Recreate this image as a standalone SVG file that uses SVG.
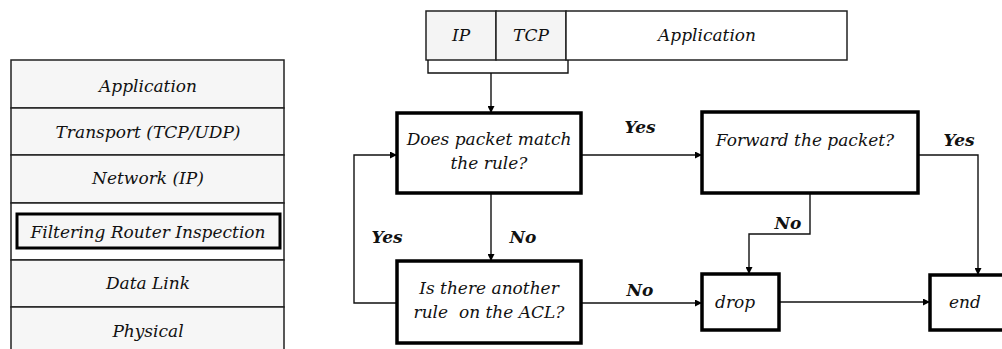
<svg xmlns="http://www.w3.org/2000/svg" width="1002" height="349" viewBox="0 0 1002 349">
<style>
text{font-family:"DejaVu Serif","Liberation Serif",serif;font-style:italic;font-size:17px;fill:#111;text-anchor:middle;dominant-baseline:central}
.b{font-weight:bold}
.row{fill:#f6f6f6;stroke:#222;stroke-width:1.5}
.hdr{stroke:#222;stroke-width:1.5}
.box{fill:#fff;stroke:#000;stroke-width:3.5}
.con{fill:none;stroke:#111;stroke-width:1.4}
</style>
<defs>
<marker id="ah" viewBox="0 0 10 10" refX="10" refY="5" markerWidth="7" markerHeight="7" markerUnits="userSpaceOnUse" orient="auto">
<path d="M0,0L10,5L0,10z" fill="#000"/>
</marker>
</defs>
<g id="stack">
<rect class="row" x="11" y="60" width="273" height="48"/>
<rect class="row" x="11" y="108" width="273" height="47"/>
<rect class="row" x="11" y="155" width="273" height="48"/>
<rect x="11" y="203" width="273" height="57" fill="#fff" stroke="#222" stroke-width="1.5"/>
<rect x="17" y="214" width="263" height="34" fill="#f6f6f6" stroke="#000" stroke-width="3"/>
<rect class="row" x="11" y="260" width="273" height="47"/>
<rect class="row" x="11" y="307" width="273" height="50"/>
<text x="148" y="86">Application</text>
<text x="148" y="132">Transport (TCP/UDP)</text>
<text x="148" y="178">Network (IP)</text>
<text x="148" y="232">Filtering Router Inspection</text>
<text x="148" y="283">Data Link</text>
<text x="148" y="331">Physical</text>
</g>
<g id="packet">
<rect class="hdr" x="426" y="11" width="70" height="49" fill="#f4f4f4"/>
<rect class="hdr" x="496" y="11" width="70" height="49" fill="#f4f4f4"/>
<rect class="hdr" x="566" y="11" width="281" height="49" fill="#fff"/>
<text x="461" y="35">IP</text>
<text x="531" y="35">TCP</text>
<text x="707" y="35">Application</text>
</g>
<g id="connectors">
<path class="con" d="M428,60V73H568V60"/>
<path class="con" d="M491,73V113" marker-end="url(#ah)"/>
<path class="con" d="M491,193V261" marker-end="url(#ah)"/>
<path class="con" d="M397,303H354V155H397" marker-end="url(#ah)"/>
<path class="con" d="M581,155H702" marker-end="url(#ah)"/>
<path class="con" d="M581,303H702" marker-end="url(#ah)"/>
<path class="con" d="M810,193V234H749V274" marker-end="url(#ah)"/>
<path class="con" d="M918,155H978V275" marker-end="url(#ah)"/>
<path class="con" d="M779,302H930" marker-end="url(#ah)"/>
<text class="b" x="640" y="127">Yes</text>
<text class="b" x="523" y="237">No</text>
<text class="b" x="387" y="237">Yes</text>
<text class="b" x="640" y="290">No</text>
<text class="b" x="788" y="223">No</text>
<text class="b" x="959" y="140">Yes</text>
</g>
<g id="match">
<rect class="box" x="397" y="113" width="184" height="80"/>
<text x="489" y="139">Does packet match</text>
<text x="489" y="163">the rule?</text>
</g>
<g id="another">
<rect class="box" x="397" y="261" width="184" height="82"/>
<text x="489" y="288">Is there another</text>
<text x="489" y="312" xml:space="preserve">rule  on the ACL?</text>
</g>
<g id="forward">
<rect class="box" x="702" y="112" width="216" height="81"/>
<text x="805" y="140">Forward the packet?</text>
</g>
<g id="drop">
<rect class="box" x="702" y="274" width="77" height="56"/>
<text x="715" y="302" style="text-anchor:start">drop</text>
</g>
<g id="end">
<rect class="box" x="930" y="275" width="90" height="55"/>
<text x="965" y="302">end</text>
</g>
</svg>
